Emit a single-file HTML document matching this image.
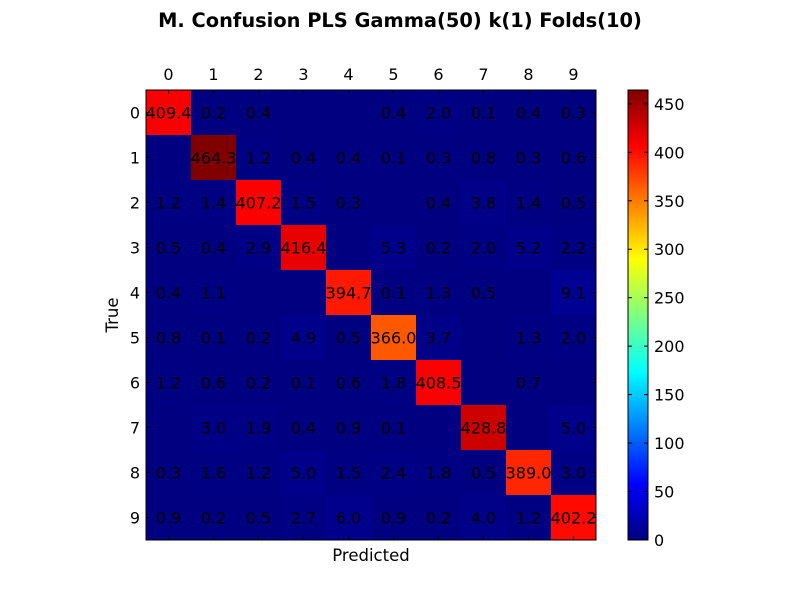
<!DOCTYPE html>
<html><head><meta charset="utf-8"><style>
body{margin:0;background:#fff;}
svg{display:block;font-family:"DejaVu Sans","Liberation Sans",sans-serif;}
</style></head><body>
<svg id="c" width="800" height="600" xmlns="http://www.w3.org/2000/svg"></svg>
<script>
const labels=["0","1","2","3","4","5","6","7","8","9"];
const row0=[409.4,0.2,0.4,0,0,0.4,2.0,0.1,0.4,0.3];
const row1=[0,464.3,1.2,0.4,0.4,0.1,0.3,0.8,0.3,0.6];
const row2=[1.2,1.4,407.2,1.5,0.3,0,0.4,3.8,1.4,0.5];
const row3=[0.5,0.4,2.9,416.4,0,5.3,0.2,2.0,5.2,2.2];
const row4=[0.4,1.1,0,0,394.7,0.1,1.3,0.5,0,9.1];
const row5=[0.8,0.1,0.2,4.9,0.5,366.0,3.7,0,1.3,2.0];
const row6=[1.2,0.6,0.2,0.1,0.6,1.8,408.5,0,0.7,0];
const row7=[0,3.0,1.9,0.4,0.9,0.1,0,428.8,0,5.0];
const row8=[0.3,1.6,1.2,5.0,1.5,2.4,1.8,0.5,389.0,3.0];
const row9=[0.9,0.2,0.5,2.7,6.0,0.9,0.2,4.0,1.2,402.2];
const matrix=[row0,row1,row2,row3,row4,row5,row6,row7,row8,row9];
const cbTicks=[0,50,100,150,200,250,300,350,400,450];

const svg=document.getElementById('c');
const NS="http://www.w3.org/2000/svg";
const X0=146,Y0=90,W=450,H=450;
const vmax=Math.max(...matrix.flat());
const cell=W/labels.length;
function jet(t){
  const cl=v=>Math.max(0,Math.min(1,v));
  const r=cl(1.5-Math.abs(4*t-3)),g=cl(1.5-Math.abs(4*t-2)),b=cl(1.5-Math.abs(4*t-1));
  return `rgb(${Math.round(r*255)},${Math.round(g*255)},${Math.round(b*255)})`;
}
function el(tag,attrs,txt){const e=document.createElementNS(NS,tag);for(const k in attrs)e.setAttribute(k,attrs[k]);if(txt!==undefined)e.textContent=txt;svg.appendChild(e);return e;}
const cbX=628,cbW=20;
function cbY(v){return Y0+H-v/vmax*H;}

let t=el('text',{x:400,y:27,'text-anchor':'middle','font-size':19.4,'font-weight':'bold'},'M. Confusion PLS Gamma(50) k(1) Folds(10)');


matrix.forEach((row,i)=>row.forEach((v,j)=>{
  const r=el('rect',{x:X0+j*cell,y:Y0+i*cell,width:cell+0.5,height:cell+0.5,fill:jet(v/vmax)});
  
  
  if(v>0){
    const tx=el('text',{x:X0+(j+0.5)*cell,y:Y0+(i+0.5)*cell+6,'text-anchor':'middle','font-size':16},v.toFixed(1));
    
    
  }
}));
let fr=el('rect',{x:X0,y:Y0,width:W,height:H,fill:'none',stroke:'#000','stroke-width':1});


labels.forEach((l,k)=>{
  const c=X0+(k+0.5)*cell;
  el('line',{x1:c,y1:Y0,x2:c,y2:Y0+4,stroke:'#000'});
  el('line',{x1:c,y1:Y0+H,x2:c,y2:Y0+H-4,stroke:'#000'});
  el('line',{x1:X0,y1:c-X0+Y0,x2:X0+4,y2:c-X0+Y0,stroke:'#000'});
  el('line',{x1:X0+W,y1:c-X0+Y0,x2:X0+W-4,y2:c-X0+Y0,stroke:'#000'});
  const a=el('text',{x:c,y:Y0-10,'text-anchor':'middle','font-size':16},l);
  
  const b=el('text',{x:X0-6,y:Y0+(k+0.5)*cell+6,'text-anchor':'end','font-size':16},l);
  
});
let xl=el('text',{x:X0+W/2,y:561,'text-anchor':'middle','font-size':16.5},'Predicted');

let yl=el('text',{x:0,y:0,'text-anchor':'middle','font-size':16.5,transform:`translate(118,${Y0+H/2}) rotate(-90)`},'True');


const defs=el('defs',{});
const lg=document.createElementNS(NS,'linearGradient');
lg.setAttribute('id','jg');lg.setAttribute('x1','0');lg.setAttribute('y1','1');lg.setAttribute('x2','0');lg.setAttribute('y2','0');
for(let s=0;s<=40;s++){const st=document.createElementNS(NS,'stop');st.setAttribute('offset',s/40);st.setAttribute('stop-color',jet(s/40));lg.appendChild(st);}
defs.appendChild(lg);
let cb=el('rect',{x:cbX,y:Y0,width:cbW,height:H,fill:'url(#jg)',stroke:'#000','stroke-width':1});

cbTicks.forEach(v=>{
  const y=cbY(v);
  el('line',{x1:cbX,y1:y,x2:cbX+4,y2:y,stroke:'#000'});
  el('line',{x1:cbX+cbW,y1:y,x2:cbX+cbW-4,y2:y,stroke:'#000'});
  const tl=el('text',{x:cbX+cbW+6,y:y+6,'font-size':16},String(v));
  
});
</script>
</body></html>
